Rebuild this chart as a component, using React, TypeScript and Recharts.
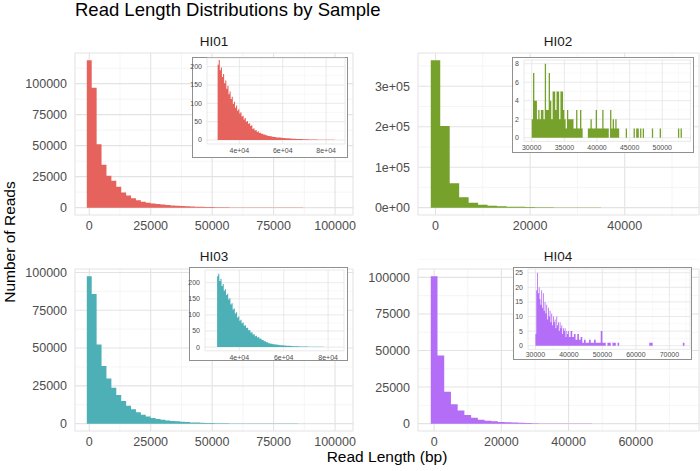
import { AreaChart, Area, XAxis, YAxis, CartesianGrid } from "recharts";

const FONT = '"Liberation Sans", Arial, Helvetica, sans-serif';
const TEXT = "#4d4d4d";
const GRID_MAJOR = "#e3e3e3";
const GRID_MINOR = "#efefef";

const colors = { HI01: "#E5635C", HI02: "#76A12B", HI03: "#4DB0B6", HI04: "#B36DF6" };

// main histograms: 2000 bp bins, first bin centred on 0
const MAIN_START = -1000;
const MAIN_BIN = 2000;
const hi01Counts = [118800, 96800, 51200, 34600, 25700, 21700, 16900, 12300, 9700, 7500, 5900, 4800, 4000, 3400, 2900, 2500, 2100, 1800, 1500, 1250, 1050, 880, 740, 620, 520, 430, 360, 300, 250, 210, 170, 140, 115, 95, 80, 65, 52, 42, 34, 28, 22, 18, 14, 11, 9, 7, 5, 4, 3, 2, 2, 1];
const hi02Counts = [364000, 202000, 60000, 25500, 12300, 7400, 4900, 3300, 2500, 1900, 1500, 1200, 900, 600, 350, 60, 75, 50, 20, 12, 14, 12, 3, 6, 2, 1, 2];
const hi03Counts = [97400, 85700, 52300, 38200, 29900, 23700, 18900, 14900, 11900, 9500, 7500, 5900, 4800, 3700, 3100, 2600, 2100, 1800, 1500, 1200, 1000, 820, 680, 560, 460, 380, 310, 250, 200, 160, 130, 105, 85, 70, 56, 45, 36, 29, 23, 18, 14, 11, 9, 7, 5, 4, 3, 2, 2, 1, 1, 1];
const hi04Counts = [100700, 46600, 21800, 13200, 8900, 5900, 4100, 2700, 2000, 1600, 1100, 900, 700, 550, 420, 300, 150, 110, 80, 60, 45, 30, 20, 12, 8, 8, 4, 3, 1, 0, 0, 0, 2, 0, 0, 0, 0, 1];

// insets: reads of 30 kb and longer
const hi01InsetFine = [205, 218, 190, 198, 172, 180, 155, 162, 140, 148, 125, 132, 112, 118, 98, 104, 88, 94, 80, 84, 72, 76, 64, 66, 56, 60, 50, 52, 44, 46, 38, 40, 30, 32, 26, 27, 22, 24, 19, 20]; // 500 bp from 30000
const hi01InsetTail = [17, 15, 13, 11, 10, 9, 8, 7, 6.5, 6, 5.5, 5, 4.5, 4, 3.5, 3.2, 3, 2.7, 2.4, 2.2, 2, 1.8, 1.6, 1.4, 1.2, 1.1, 1, 0.9, 0.8, 0.7, 0.6, 0.5, 0.4, 0.4, 0.3, 0.3, 0.2]; // 1000 bp from 50000
const hi02Inset = [
  2, 7, 4, 4, 2, 3, 2, 3, 3, 2,
  8, 3, 3, 7, 4, 2, 5, 5, 3, 5,
  5, 2, 5, 5, 3, 2, 1, 3, 2, 2,
  2, 2, 1, 1, 3, 1, 1, 3, 1, 0,
  0, 0, 0, 1, 1, 2, 1, 1, 1, 3,
  1, 1, 1, 1, 3, 1, 1, 1, 1, 0,
  3, 1, 2, 1, 2, 1, 1, 0, 0, 0,
  0, 0, 1, 0, 0, 0, 0, 0, 1, 0,
  1, 1, 0, 1, 0, 1, 0, 0, 0, 0,
  0, 0, 1, 0, 0, 0, 0, 0, 1, 0,
  0, 0, 0, 0, 0, 0, 0, 0, 0, 0,
  0, 0, 1, 0, 1, 0,
]; // 200 bp from 30000
const hi03InsetFine = [220, 228, 205, 212, 190, 196, 175, 180, 162, 166, 148, 152, 132, 136, 117, 120, 104, 108, 92, 95, 82, 85, 74, 76, 66, 68, 59, 60, 52, 53, 45, 46, 39, 40, 34, 35, 30, 31, 26, 27];
const hi03InsetTail = [22, 18, 15, 12, 10, 9, 8, 7, 6, 5.5, 5, 4.5, 4, 3.5, 3, 2.7, 2.4, 2.1, 1.9, 1.7, 1.5, 1.3, 1.2, 1.1, 1, 0.9, 0.8, 0.7, 0.6, 0.5, 0.5, 0.4, 0.4, 0.3, 0.3, 0.2, 0.2];
const hi04InsetFine = [4, 19, 25, 18, 20, 16, 14, 19, 13, 18, 12, 15, 11, 14, 9, 13, 10, 12, 8, 11, 7, 10, 8, 9, 6, 10, 7, 8, 5, 8, 6, 7, 4, 6, 5, 6, 3, 5, 4, 5]; // 250 bp from 30000
const hi04InsetTail = [
  3, 5, 3, 4, 2, 4, 2, 3, 1, 2, 1, 1, 2, 1, 1, 2, 1, 1, 1, 5,
  1, 1, 0, 1, 1, 0, 1, 1, 0, 1,
  0, 0, 0, 0, 0, 0, 0, 0, 0, 0, 0, 0, 0, 0, 0, 0, 0, 0,
  1, 1,
  0, 0, 0, 0, 0, 0, 0, 0, 0, 0, 0, 0, 0, 0, 0, 0, 0, 0, 1, 0,
]; // 500 bp from 40000

// tick values and labels
const xTicks100k = [0, 25000, 50000, 75000, 100000];
const xMinor100k = [12500, 37500, 62500, 87500];
const xTicks40k = [0, 20000, 40000];
const xMinor40k = [10000, 30000, 50000];
const xTicks60k = [0, 20000, 40000, 60000];
const xMinor60k = [10000, 30000, 50000, 70000];
const yTicks100k = [0, 25000, 50000, 75000, 100000];
const yMinor100k = [12500, 37500, 62500, 87500, 112500];
const yTicksHI02 = [0, 100000, 200000, 300000];
const yLabelsHI02 = ["0e+00", "1e+05", "2e+05", "3e+05"];
const yMinorHI02 = [50000, 150000, 250000, 350000];

const insetXTicksSci = [40000, 60000, 80000];
const insetXLabelsSci = ["4e+04", "6e+04", "8e+04"];
const insetXMinorSci = [30000, 50000, 70000];
const insetYTicks200 = [0, 50, 100, 150, 200];
const insetYMinor200 = [25, 75, 125, 175];
const insetXTicksHI02 = [30000, 35000, 40000, 45000, 50000];
const insetXMinorHI02 = [32500, 37500, 42500, 47500, 52500];
const insetYTicksHI02 = [0, 2, 4, 6, 8];
const insetYMinorHI02 = [1, 3, 5, 7];
const insetXTicksHI04 = [30000, 40000, 50000, 60000, 70000];
const insetXMinorHI04 = [35000, 45000, 55000, 65000, 75000];
const insetYTicksHI04 = [0, 5, 10, 15, 20, 25];
const insetYMinorHI04 = [2.5, 7.5, 12.5, 17.5, 22.5];

type Segment = { start: number; width: number; counts: number[] };
type Pt = { x: number; n: number };

function toSteps(segs: Segment[]): Pt[] {
  const pts: Pt[] = [];
  segs.forEach((s) => s.counts.forEach((n, i) => pts.push({ x: s.start + i * s.width, n })));
  const last = segs[segs.length - 1];
  pts.push({ x: last.start + last.counts.length * last.width, n: 0 });
  return pts;
}

const mainSteps = (counts: number[]) => toSteps([{ start: MAIN_START, width: MAIN_BIN, counts }]);
const expand = (counts: number[]): [number, number] => {
  const m = Math.max(...counts);
  return [-0.05 * m, 1.05 * m];
};

const labelFmt = (ticks: number[], labels?: string[]) => (v: number) => {
  const i = ticks.indexOf(v);
  return labels && i >= 0 ? labels[i] : String(v);
};

// position of a value inside the plot rect, using the axis scale when it is available
function axisPos(axis: any, v: number, domain: [number, number], from: number, size: number, flip: boolean) {
  if (axis && typeof axis.scale === "function") return axis.scale(v);
  if (axis && axis.scale && typeof axis.scale.map === "function") return axis.scale.map(v);
  const t = (v - domain[0]) / (domain[1] - domain[0]);
  return flip ? from + size * (1 - t) : from + size * t;
}

type HistProps = {
  data: Pt[];
  color: string;
  plotLeft: number;
  plotTop: number;
  plotW: number;
  plotH: number;
  yw: number;
  xh: number;
  mt: number;
  mr: number;
  xDomain: [number, number];
  yDomain: [number, number];
  xTicks: number[];
  yTicks: number[];
  xMinor: number[];
  yMinor: number[];
  xLabels?: string[];
  yLabels?: string[];
  fontSize: number;
  xMargin: number;
  yMargin: number;
  majorWidth: number;
  minorWidth: number;
};

function Hist(p: HistProps) {
  const tick = { fontSize: p.fontSize, fill: TEXT, fontFamily: FONT };
  return (
    <div style={{ position: "absolute", left: p.plotLeft - p.yw, top: p.plotTop - p.mt }}>
      <AreaChart
        width={p.yw + p.plotW + p.mr}
        height={p.mt + p.plotH + p.xh}
        data={p.data}
        margin={{ top: p.mt, right: p.mr, bottom: 0, left: 0 }}
      >
        <CartesianGrid
          stroke={GRID_MINOR}
          strokeWidth={p.minorWidth}
          verticalCoordinatesGenerator={({ xAxis, offset }: any) =>
            p.xMinor.map((v) => axisPos(xAxis, v, p.xDomain, offset.left, offset.width, false))
          }
          horizontalCoordinatesGenerator={({ yAxis, offset }: any) =>
            p.yMinor.map((v) => axisPos(yAxis, v, p.yDomain, offset.top, offset.height, true))
          }
        />
        <CartesianGrid stroke={GRID_MAJOR} strokeWidth={p.majorWidth} />
        <XAxis
          dataKey="x"
          type="number"
          domain={p.xDomain}
          allowDataOverflow
          ticks={p.xTicks}
          interval={0}
          tickFormatter={labelFmt(p.xTicks, p.xLabels)}
          axisLine={false}
          tickLine={false}
          tickSize={0}
          tickMargin={p.xMargin}
          tick={tick}
          height={p.xh}
        />
        <YAxis
          type="number"
          domain={p.yDomain}
          allowDataOverflow
          ticks={p.yTicks}
          interval={0}
          tickFormatter={labelFmt(p.yTicks, p.yLabels)}
          axisLine={false}
          tickLine={false}
          tickSize={0}
          tickMargin={p.yMargin}
          tick={tick}
          width={p.yw}
        />
        <Area
          type="stepAfter"
          dataKey="n"
          stroke="none"
          fill={p.color}
          fillOpacity={1}
          dot={false}
          activeDot={false}
          isAnimationActive={false}
        />
      </AreaChart>
    </div>
  );
}

const mainCommon = { yw: 60, xh: 22, mt: 10, mr: 24, fontSize: 12.5, xMargin: 6, yMargin: 8, majorWidth: 1.1, minorWidth: 0.6, plotH: 162 };
const insetCommon = { yw: 30, xh: 14, mt: 4, mr: 4, fontSize: 7, yMargin: 5, majorWidth: 0.8, minorWidth: 0.4 };

function InsetBox({ x, y, w, h }: { x: number; y: number; w: number; h: number }) {
  return (
    <div
      style={{
        position: "absolute",
        left: x,
        top: y,
        width: w,
        height: h,
        boxSizing: "border-box",
        border: "1px solid #909090",
        background: "#fff",
      }}
    />
  );
}

export default function App() {
  return (
    <div
      style={{
        position: "absolute",
        left: 0,
        top: 0,
        width: 700,
        height: 471,
        background: "#fff",
        overflow: "hidden",
        fontFamily: FONT,
      }}
    >
      <svg width={700} height={471} style={{ position: "absolute", left: 0, top: 0 }}>
        <text x={75} y={16} fontSize={18.5} fill="#000" fontFamily={FONT}>
          Read Length Distributions by Sample
        </text>
        <text x={214} y={46} fontSize={13.5} fill="#1a1a1a" textAnchor="middle" fontFamily={FONT}>HI01</text>
        <text x={558} y={46} fontSize={13.5} fill="#1a1a1a" textAnchor="middle" fontFamily={FONT}>HI02</text>
        <text x={214} y={261} fontSize={13.5} fill="#1a1a1a" textAnchor="middle" fontFamily={FONT}>HI03</text>
        <text x={558} y={261} fontSize={13.5} fill="#1a1a1a" textAnchor="middle" fontFamily={FONT}>HI04</text>
        <text x={387} y={462} fontSize={15.5} fill="#000" textAnchor="middle" fontFamily={FONT}>
          Read Length (bp)
        </text>
        <text
          transform="translate(15, 242) rotate(-90)"
          fontSize={15.5}
          fill="#000"
          textAnchor="middle"
          fontFamily={FONT}
        >
          Number of Reads
        </text>
      </svg>

      {/* HI01 */}
      <Hist
        {...mainCommon}
        data={mainSteps(hi01Counts)}
        color={colors.HI01}
        plotLeft={75}
        plotTop={53}
        plotW={278}
        xDomain={[-5800, 107300]}
        yDomain={expand(hi01Counts)}
        xTicks={xTicks100k}
        xMinor={xMinor100k}
        yTicks={yTicks100k}
        yMinor={yMinor100k}
      />
      {/* HI02 */}
      <Hist
        {...mainCommon}
        data={mainSteps(hi02Counts)}
        color={colors.HI02}
        plotLeft={418}
        plotTop={53}
        plotW={281}
        xDomain={[-3700, 55700]}
        yDomain={expand(hi02Counts)}
        xTicks={xTicks40k}
        xMinor={xMinor40k}
        yTicks={yTicksHI02}
        yLabels={yLabelsHI02}
        yMinor={yMinorHI02}
      />
      {/* HI03 */}
      <Hist
        {...mainCommon}
        data={mainSteps(hi03Counts)}
        color={colors.HI03}
        plotLeft={75}
        plotTop={268.5}
        plotW={278}
        xDomain={[-5800, 107300]}
        yDomain={expand(hi03Counts)}
        xTicks={xTicks100k}
        xMinor={xMinor100k}
        yTicks={yTicks100k}
        yMinor={yMinor100k}
      />
      {/* HI04 */}
      <Hist
        {...mainCommon}
        data={mainSteps(hi04Counts)}
        color={colors.HI04}
        plotLeft={418}
        plotTop={268.5}
        plotW={281}
        xDomain={[-4800, 78800]}
        yDomain={expand(hi04Counts)}
        xTicks={xTicks60k}
        xMinor={xMinor60k}
        yTicks={yTicks100k}
        yMinor={yMinor100k}
      />

      {/* insets */}
      <InsetBox x={191.7} y={56.7} w={156.6} h={101} />
      <Hist
        {...insetCommon}
        data={toSteps([
          { start: 30000, width: 500, counts: hi01InsetFine },
          { start: 50000, width: 1000, counts: hi01InsetTail },
        ])}
        color={colors.HI01}
        plotLeft={207}
        plotTop={58}
        plotW={138}
        plotH={86}
        xDomain={[25100, 88700]}
        yDomain={[-10.9, 223.6]}
        xTicks={insetXTicksSci}
        xLabels={insetXLabelsSci}
        xMinor={insetXMinorSci}
        yTicks={insetYTicks200}
        yMinor={insetYMinor200}
        xMargin={4}
      />

      <InsetBox x={512.3} y={57.3} w={181.7} h={96} />
      <Hist
        {...insetCommon}
        data={toSteps([{ start: 30000, width: 200, counts: hi02Inset }])}
        color={colors.HI02}
        plotLeft={524}
        plotTop={59.6}
        plotW={166.5}
        plotH={81.4}
        xDomain={[28820, 54320]}
        yDomain={[-0.4, 8.4]}
        xTicks={insetXTicksHI02}
        xMinor={insetXMinorHI02}
        yTicks={insetYTicksHI02}
        yMinor={insetYMinorHI02}
        xMargin={4}
      />

      <InsetBox x={189} y={267.3} w={158.7} h={93.7} />
      <Hist
        {...insetCommon}
        data={toSteps([
          { start: 30000, width: 500, counts: hi03InsetFine },
          { start: 50000, width: 1000, counts: hi03InsetTail },
        ])}
        color={colors.HI03}
        plotLeft={205}
        plotTop={269.6}
        plotW={139}
        plotH={80.8}
        xDomain={[24550, 87160]}
        yDomain={[-11.5, 239.4]}
        xTicks={insetXTicksSci}
        xLabels={insetXLabelsSci}
        xMinor={insetXMinorSci}
        yTicks={insetYTicks200}
        yMinor={insetYMinor200}
        xMargin={4}
      />

      <InsetBox x={513.3} y={267.3} w={179} h={92.7} />
      <Hist
        {...insetCommon}
        data={toSteps([
          { start: 30000, width: 250, counts: hi04InsetFine },
          { start: 40000, width: 500, counts: hi04InsetTail },
        ])}
        color={colors.HI04}
        plotLeft={527.6}
        plotTop={269}
        plotW={162.1}
        plotH={80.35}
        xDomain={[27790, 76180]}
        yDomain={[-1.25, 26.27]}
        xTicks={insetXTicksHI04}
        xMinor={insetXMinorHI04}
        yTicks={insetYTicksHI04}
        yMinor={insetYMinorHI04}
        xMargin={3}
      />
    </div>
  );
}
